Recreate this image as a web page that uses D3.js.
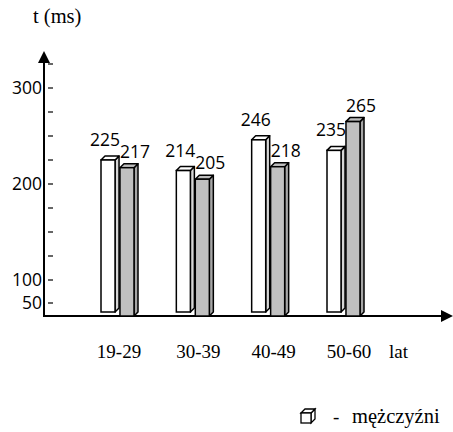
<!DOCTYPE html>
<html>
<head>
<meta charset="utf-8">
<script src="https://cdn.jsdelivr.net/npm/d3@7"></script>
<style>
  body { margin: 0; background: #fff; }
  svg text.serif { font-family: "Liberation Serif", "Times New Roman", serif; font-size: 19px; }
  svg text.big { font-size: 20.5px; }
  svg text.sans { font-family: "Open Sans", "Liberation Sans", sans-serif; font-size: 17.5px; }
</style>
</head>
<body>
<script>
const categories = ['19-29', '30-39', '40-49', '50-60'];
const series = ['mężczyźni', 'kobiety'];
const men = [225, 214, 246, 235];
const women = [217, 205, 218, 265];
const yTicks = [325, 300, 275, 250, 225, 200, 175, 150, 125, 100, 50];
const yTickLabels = [300, 200, 100, 50];

const width = 453, height = 432;
const baseline = 316, axisX = 44, depth = 4;

const svg = d3.select('body').append('svg')
  .attr('width', width)
  .attr('height', height);

// axis is broken below 100, so a piecewise scale
const y = d3.scaleLinear()
  .domain([50, 100, 300])
  .range([303, 280, 88]);

const x = d3.scalePoint()
  .domain(categories)
  .range([119, 345]);

const xSub = d3.scaleBand()
  .domain(series)
  .range([-18, 15])
  .paddingInner(0.26);

// y axis line + arrow
svg.append('line')
  .attr('x1', axisX).attr('x2', axisX)
  .attr('y1', baseline).attr('y2', 60)
  .attr('stroke', '#000').attr('stroke-width', 2);
svg.append('path')
  .attr('d', `M${axisX},51 L${axisX - 6},63 L${axisX + 6},63 Z`)
  .attr('fill', '#000');

// x axis line + arrow
svg.append('line')
  .attr('x1', axisX - 1).attr('x2', 442)
  .attr('y1', baseline).attr('y2', baseline)
  .attr('stroke', '#000').attr('stroke-width', 2);
svg.append('path')
  .attr('d', `M453,${baseline} L441,${baseline - 6} L441,${baseline + 6} Z`)
  .attr('fill', '#000');

// tick dashes, detached from the axis
svg.selectAll('.tick')
  .data(yTicks)
  .enter()
  .append('line')
  .attr('class', 'tick')
  .attr('x1', 48).attr('x2', 53)
  .attr('y1', d => y(d)).attr('y2', d => y(d))
  .attr('stroke', '#000').attr('stroke-width', 1.2);

svg.selectAll('.ylab')
  .data(yTickLabels)
  .enter()
  .append('text')
  .attr('class', 'ylab sans')
  .attr('x', 42)
  .attr('y', d => y(d) + 6)
  .attr('text-anchor', 'end')
  .text(d => d);

svg.append('text')
  .attr('class', 'serif big')
  .attr('x', 33).attr('y', 23)
  .text('t (ms)');

// bars
const bars = [];
categories.forEach((c, i) => {
  bars.push({ cat: c, s: series[0], v: men[i] });
  bars.push({ cat: c, s: series[1], v: women[i] });
});

const fills = {
  'mężczyźni': { front: '#fff', top: '#fff', side: '#d6d6d6' },
  'kobiety': { front: '#c0c0c0', top: '#bdbdbd', side: '#a6a6a6' }
};

const g = svg.selectAll('.bar')
  .data(bars)
  .enter()
  .append('g')
  .attr('class', 'bar');

g.each(function (d) {
  const sel = d3.select(this);
  const x0 = x(d.cat) + xSub(d.s);
  const w = xSub.bandwidth();
  const isMen = d.s === series[0];
  const bottom = isMen ? baseline - 4 : baseline;
  const top = y(d.v);
  const f = fills[d.s];

  sel.append('path')
    .attr('d', `M${x0 + w},${top} L${x0 + w + depth},${top - depth} L${x0 + w + depth},${bottom - depth} L${x0 + w},${bottom} Z`)
    .attr('fill', f.side).attr('stroke', '#000').attr('stroke-width', 1.5).attr('stroke-linejoin', 'round');
  sel.append('path')
    .attr('d', `M${x0},${top} L${x0 + depth},${top - depth} L${x0 + w + depth},${top - depth} L${x0 + w},${top} Z`)
    .attr('fill', f.top).attr('stroke', '#000').attr('stroke-width', 1.5).attr('stroke-linejoin', 'round');
  sel.append('rect')
    .attr('x', x0).attr('y', top)
    .attr('width', w).attr('height', bottom - top)
    .attr('fill', f.front).attr('stroke', '#000').attr('stroke-width', 1.5);

  sel.append('text')
    .attr('class', 'sans')
    .attr('x', x0 + w / 2 + (isMen ? -3 : 8))
    .attr('y', top - (isMen ? 14 : 10))
    .attr('text-anchor', 'middle')
    .text(d.v);
});

// category labels
svg.selectAll('.xlab')
  .data(categories)
  .enter()
  .append('text')
  .attr('class', 'xlab serif')
  .attr('x', (d, i) => x(d) + (i ? 4 : 0))
  .attr('y', 358)
  .attr('text-anchor', 'middle')
  .text(d => d);

svg.append('text')
  .attr('class', 'serif')
  .attr('x', 389).attr('y', 358)
  .text('lat');

// legend (only the first entry is visible)
const lg = svg.append('g').attr('transform', 'translate(301,409)');
const cw = 10, cd = 4;
lg.append('path')
  .attr('d', `M${cw},${cd} L${cw + cd},0 L${cw + cd},${cw} L${cw},${cw + cd} Z`)
  .attr('fill', '#fff').attr('stroke', '#000').attr('stroke-width', 1.3);
lg.append('path')
  .attr('d', `M0,${cd} L${cd},0 L${cw + cd},0 L${cw},${cd} Z`)
  .attr('fill', '#fff').attr('stroke', '#000').attr('stroke-width', 1.3);
lg.append('rect')
  .attr('x', 0).attr('y', cd).attr('width', cw).attr('height', cw)
  .attr('fill', '#fff').attr('stroke', '#000').attr('stroke-width', 1.3);

svg.append('text')
  .attr('class', 'serif')
  .attr('x', 333).attr('y', 423)
  .text('-');
svg.append('text')
  .attr('class', 'serif big')
  .attr('x', 352).attr('y', 423)
  .text(series[0]);
</script>
</body>
</html>
